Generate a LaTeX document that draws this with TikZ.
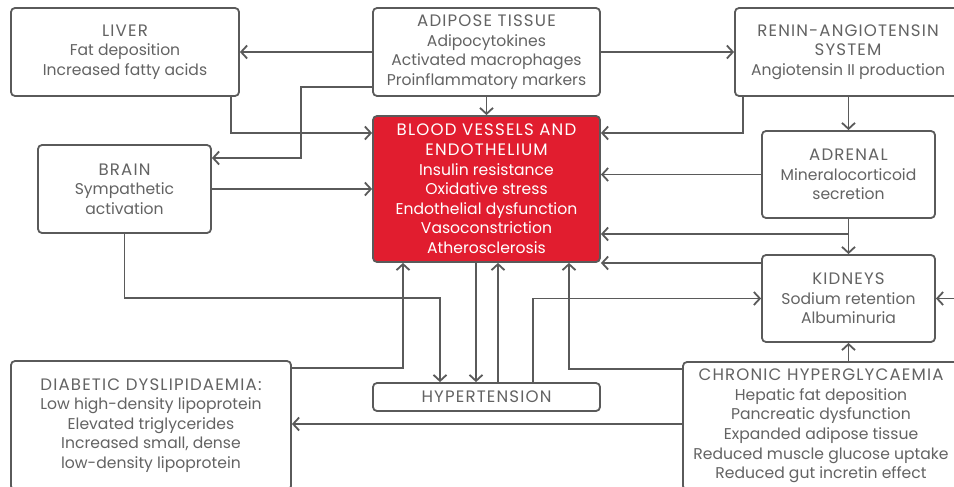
\documentclass[tikz,border=0pt]{standalone}
\usepackage{fontspec}
\setmainfont{Poppins}
\usetikzlibrary{arrows.meta}
\definecolor{linegray}{HTML}{5A5A5A}
\definecolor{textgray}{HTML}{636363}
\definecolor{vesselred}{HTML}{E11D2F}
\newcommand{\capline}[1]{{\addfontfeature{LetterSpace=7}\fontsize{16.6}{19.6}\selectfont #1}}

\begin{document}
\begin{tikzpicture}[
    x=1pt, y=-1pt,
    organ/.style={
        draw=linegray,
        line width=1.8pt,
        rounded corners=4pt,
        fill=white,
        text=textgray,
        align=center,
        inner sep=0pt,
        font=\fontsize{15.6}{19.6}\selectfont
    },
    core/.style={
        organ,
        fill=vesselred,
        text=white
    },
    link/.style={
        -{Straight Barb[length=6pt,width=13pt]},
        draw=linegray,
        line width=1.8pt
    }
]

    \useasboundingbox (0,0) rectangle (954,487);
    \clip (0,0) rectangle (954,487);
    \fill[white] (0,0) rectangle (954,487);

    % Boxes
    \node[organ, minimum width=228pt, minimum height=88pt] (liver) at (125,52) {\capline{LIVER}\\Fat deposition\\Increased fatty acids};
    \node[organ, minimum width=227pt, minimum height=88pt] (adipose) at (486.5,52) {\capline{ADIPOSE TISSUE}\\Adipocytokines\\Activated macrophages\\Proinflammatory markers};
    \node[organ, minimum width=226pt, minimum height=88pt] (ras) at (848,52) {\capline{RENIN-ANGIOTENSIN}\\\capline{SYSTEM}\\Angiotensin II production};
    \node[core, minimum width=227pt, minimum height=146pt] (vessels) at (486.5,189) {\capline{BLOOD VESSELS AND}\\\capline{ENDOTHELIUM}\\Insulin resistance\\Oxidative stress\\Endothelial dysfunction\\Vasoconstriction\\Atherosclerosis};
    \node[organ, minimum width=173pt, minimum height=88pt] (brain) at (124.5,189) {\capline{BRAIN}\\Sympathetic\\activation};
    \node[organ, minimum width=173pt, minimum height=87pt] (adrenal) at (848.5,174.5) {\capline{ADRENAL}\\Mineralocorticoid\\secretion};
    \node[organ, minimum width=173pt, minimum height=87pt] (kidneys) at (848.5,298.5) {\capline{KIDNEYS}\\Sodium retention\\Albuminuria};
    \node[organ, minimum width=227pt, minimum height=28pt] (hyper) at (486.5,397) {\capline{HYPERTENSION}};
    \node[organ, minimum width=280pt, minimum height=129pt] (dyslip) at (151,425.5) {\capline{DIABETIC DYSLIPIDAEMIA:}\\Low high-density lipoprotein\\Elevated triglycerides\\Increased small, dense\\low-density lipoprotein};
    \node[organ, minimum width=276pt, minimum height=128pt] (glycaemia) at (821,426) {\capline{CHRONIC HYPERGLYCAEMIA}\\Hepatic fat deposition\\Pancreatic dysfunction\\Expanded adipose tissue\\Reduced muscle glucose uptake\\Reduced gut incretin effect};

    % Adipose tissue outputs
    \draw[link] (adipose.west) -- (liver.east);
    \draw[link] (adipose.east) -- (ras.west);
    \draw[link] (adipose.south) -- (vessels.north);
    \draw[link] (adipose.west |- 0,87) -- (301,87) |- (brain.east |- 0,158);

    % Liver and brain
    \draw[link] (liver.south -| 231,0) |- (vessels.west |- 0,133);
    \draw[link] (brain.east) -- (vessels.west);
    \draw[link] (brain.south) |- (440,298) -- (hyper.north -| 440,0);

    % Hypertension loop
    \draw[link] (vessels.south -| 476,0) -- (hyper.north -| 476,0);
    \draw[link] (hyper.north -| 498,0) -- (vessels.south -| 498,0);
    \draw[link] (hyper.north -| 533,0) |- (kidneys.west);

    % Dyslipidaemia and hyperglycaemia
    \draw[link] (dyslip.east |- 0,368) -| (vessels.south -| 403,0);
    \draw[link] (glycaemia.west |- 0,369) -| (vessels.south -| 569,0);
    \draw[link] (glycaemia.west |- 0,424) -- (dyslip.east |- 0,424);
    \draw[link] (kidneys.south |- glycaemia.north) -- (kidneys.south);

    % Renin-angiotensin, adrenal and kidneys
    \draw[link] (ras.south -| 743,0) |- (vessels.east |- 0,133);
    \draw[link] (adrenal.north |- ras.south) -- (adrenal.north);
    \draw[link] (adrenal.west) -- (vessels.east |- adrenal.west);
    \draw[link] (adrenal.south) -- (kidneys.north);
    \draw[link] (adrenal.south |- 0,234) -- (vessels.east |- 0,234);
    \draw[link] (kidneys.west |- 0,263) -- (vessels.east |- 0,263);
    \coordinate (offright) at (962,298.5);
    \draw[link] (offright) -- (kidneys.east);

\end{tikzpicture}
\end{document}
